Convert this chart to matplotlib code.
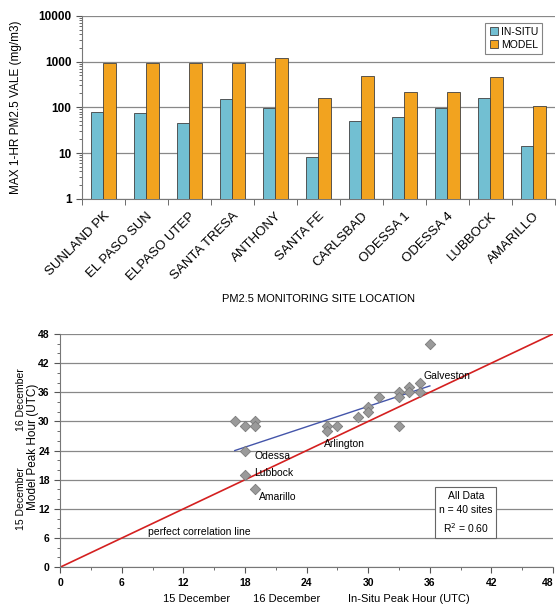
import matplotlib
matplotlib.use("Agg")
import matplotlib.pyplot as plt
import numpy as np
from matplotlib.ticker import LogLocator, NullFormatter, MultipleLocator

plt.rcParams['font.family'] = ['Liberation Sans', 'DejaVu Sans']

# ---- data: top chart ----
sites = ["SUNLAND PK", "EL PASO SUN", "ELPASO UTEP", "SANTA TRESA", "ANTHONY",
         "SANTA FE", "CARLSBAD", "ODESSA 1", "ODESSA 4", "LUBBOCK", "AMARILLO"]
insitu = [80, 75, 45, 148, 94, 8, 51, 61, 96, 161, 14]
model = [940, 940, 940, 940, 1170, 160, 490, 221, 221, 456, 108]
ytick_vals = [1, 10, 100, 1000, 10000]

# ---- data: bottom chart ----
obs_hour = [17, 18, 19, 19, 18, 18, 19, 26, 26, 27, 29, 30, 30, 31, 33, 33, 33,
            34, 34, 35, 35, 36]
mod_hour = [30, 29, 30, 29, 24, 19, 16, 29, 28, 29, 31, 33, 32, 35, 36, 35, 29,
            37, 36, 38, 36, 46]
trend_x = [17, 36]
trend_y = [24, 37.3]
perfect_x = [0, 48]
perfect_y = [0, 48]
labels = [("Galveston", 35.4, 39.4), ("Arlington", 25.7, 25.4),
          ("Odessa", 18.9, 22.9), ("Lubbock", 18.9, 19.3),
          ("Amarillo", 19.4, 14.4), ("perfect correlation line", 8.6, 7.3)]
hour_ticks = [0, 6, 12, 18, 24, 30, 36, 42, 48]

fig = plt.figure(figsize=(5.57, 6.06), dpi=100)
fig.patch.set_facecolor('white')

# ---------------- top chart ----------------
ax1 = fig.add_axes([0.147, 0.672, 0.849, 0.302])
x = np.arange(len(sites))
w = 0.29
ax1.bar(x - w / 2, insitu, w, color='#72BFD2', edgecolor='#404040', linewidth=0.6,
        label='IN-SITU', zorder=3)
ax1.bar(x + w / 2, model, w, color='#F2A31F', edgecolor='#404040', linewidth=0.6,
        label='MODEL', zorder=3)
ax1.set_yscale('log')
ax1.set_ylim(1, 10000)
ax1.set_xlim(-0.5, len(sites) - 0.5)
ax1.set_yticks(ytick_vals)
ax1.set_yticklabels([str(v) for v in ytick_vals], fontsize=8.5, fontweight='bold')
ax1.yaxis.set_minor_locator(LogLocator(base=10, subs=np.arange(2, 10)))
ax1.yaxis.set_minor_formatter(NullFormatter())
ax1.tick_params(axis='y', which='major', length=4, color='#555555')
ax1.tick_params(axis='y', which='minor', length=2, color='#555555')
ax1.set_xticks(x)
ax1.set_xticklabels(sites, rotation=45, ha='right', rotation_mode='anchor', fontsize=9.5)
ax1.set_xticks(np.arange(len(sites) + 1) - 0.5, minor=True)
ax1.tick_params(axis='x', which='major', length=0, pad=8)
ax1.tick_params(axis='x', which='minor', length=4, color='#555555')
ax1.grid(axis='y', which='major', color='#888888', linewidth=0.9, zorder=0)
for s in ['top', 'right']:
    ax1.spines[s].set_visible(False)
ax1.spines['left'].set_color('#777777')
ax1.spines['bottom'].set_color('#777777')
ax1.set_ylabel('MAX 1-HR PM2.5 VALE (mg/m3)', fontsize=8.5, labelpad=12)
ax1.set_xlabel('PM2.5 MONITORING SITE LOCATION', fontsize=8, labelpad=8)
leg = ax1.legend(loc='upper right', bbox_to_anchor=(0.985, 0.99), fontsize=7.5,
                 frameon=True, fancybox=False, edgecolor='#666666',
                 handlelength=0.8, handleheight=0.8, handletextpad=0.3,
                 borderpad=0.4, labelspacing=0.3)
leg.get_frame().set_linewidth(0.8)

# ---------------- bottom chart ----------------
ax2 = fig.add_axes([0.108, 0.064, 0.885, 0.385])
ax2.set_xlim(0, 48)
ax2.set_ylim(0, 48)
ax2.grid(axis='y', color='#888888', linewidth=0.9, zorder=0)
ax2.plot(perfect_x, perfect_y, color='#D42020', linewidth=1.2, zorder=2)
ax2.plot(trend_x, trend_y, color='#4455AA', linewidth=1.0, zorder=2)
ax2.scatter(obs_hour, mod_hour, marker='D', s=28, color='#9A9A9A',
            edgecolor='#7A7A7A', linewidth=0.6, zorder=4)
ax2.set_xticks(hour_ticks)
ax2.set_yticks(hour_ticks)
ax2.set_xticklabels([str(v) for v in hour_ticks], fontsize=7.5, fontweight='bold')
ax2.set_yticklabels([str(v) for v in hour_ticks], fontsize=7.5, fontweight='bold')
ax2.get_xticklabels()[-1].set_horizontalalignment('right')
ax2.xaxis.set_minor_locator(MultipleLocator(3))
ax2.yaxis.set_minor_locator(MultipleLocator(2))
ax2.tick_params(which='major', length=4, color='#555555')
ax2.tick_params(which='minor', length=2, color='#555555')
for s in ['top', 'right']:
    ax2.spines[s].set_visible(False)
ax2.spines['left'].set_color('#777777')
ax2.spines['bottom'].set_color('#777777')
for txt, tx, ty in labels:
    ax2.text(tx, ty, txt, fontsize=7.5, ha='left', va='center', zorder=5)
ax2.text(39.5, 11.2, 'All Data\nn = 40 sites\nR$^2$ = 0.60', fontsize=7.5,
         ha='center', va='center', linespacing=1.5, zorder=5,
         bbox=dict(boxstyle='square,pad=0.35', facecolor='white',
                   edgecolor='#666666', linewidth=0.8))

# axis titles for bottom chart
fig.text(20.7 / 557, 1 - 499 / 606, '15 December', rotation=90, fontsize=7.5,
         ha='center', va='center')
fig.text(20.7 / 557, 1 - 400 / 606, '16 December', rotation=90, fontsize=7.5,
         ha='center', va='center')
fig.text(33.3 / 557, 1 - 447 / 606, 'Model Peak Hour (UTC)', rotation=90,
         fontsize=8.5, ha='center', va='center')
fig.text(197 / 557, 1 - 599 / 606, '15 December', fontsize=8, ha='center', va='center')
fig.text(287 / 557, 1 - 599 / 606, '16 December', fontsize=8, ha='center', va='center')
fig.text(409 / 557, 1 - 599 / 606, 'In-Situ Peak Hour (UTC)', fontsize=8,
         ha='center', va='center')

fig.savefig('out.png', dpi=100)
